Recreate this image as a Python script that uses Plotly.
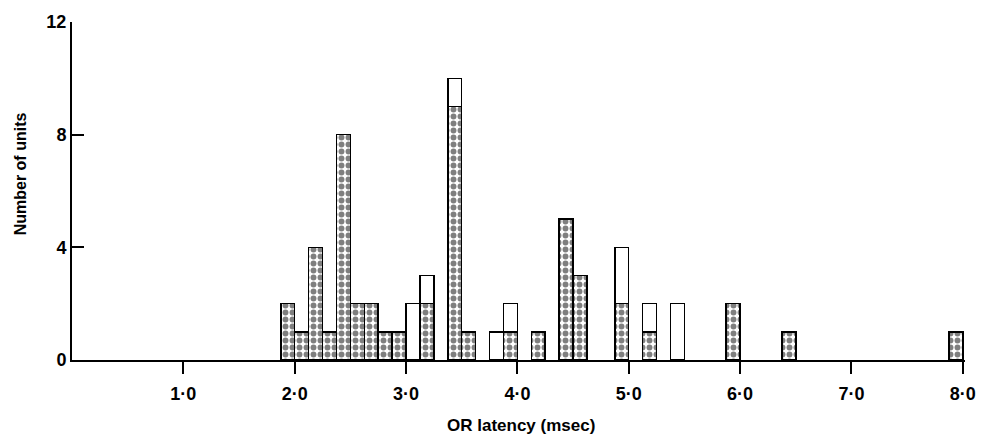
import plotly.graph_objects as go

# Bin centres (msec), bin width 0.125 msec
bin_centers = [1.9375, 2.0625, 2.1875, 2.3125, 2.4375, 2.5625, 2.6875, 2.8125, 2.9375,
               3.0625, 3.1875, 3.4375, 3.5625, 3.8125, 3.9375, 4.1875, 4.4375, 4.5625,
               4.9375, 5.1875, 5.4375, 5.9375, 6.4375, 7.9375]
dotted_counts = [2, 1, 4, 1, 8, 2, 2, 1, 1,
                 0, 2, 9, 1, 0, 1, 1, 5, 3,
                 2, 1, 0, 2, 1, 1]
open_counts = [0, 0, 0, 0, 0, 0, 0, 0, 0,
               2, 1, 1, 0, 1, 1, 0, 0, 0,
               2, 1, 2, 0, 0, 0]
bin_width = 0.125

x_tick_vals = [1, 2, 3, 4, 5, 6, 7, 8]
x_tick_text = ["1·0", "2·0", "3·0", "4·0", "5·0", "6·0", "7·0", "8·0"]
y_tick_vals = [0, 4, 8, 12]

FONT = "Liberation Sans, Arial, sans-serif"

fig = go.Figure()
fig.add_trace(go.Bar(
    x=bin_centers, y=dotted_counts, width=bin_width,
    marker=dict(color="white",
                line=dict(color="black", width=1.5),
                pattern=dict(shape=".", fgcolor="black", bgcolor="white",
                             size=7, solidity=0.55, fillmode="overlay")),
    showlegend=False, hoverinfo="skip",
))
fig.add_trace(go.Bar(
    x=bin_centers, y=open_counts, width=bin_width,
    marker=dict(color="white", line=dict(color="black", width=1.5)),
    showlegend=False, hoverinfo="skip",
))

fig.update_layout(
    template="simple_white",
    barmode="stack", bargap=0,
    width=981, height=436,
    margin=dict(l=72, r=16, t=22, b=76, autoexpand=False),
    font=dict(family=FONT, size=17, color="black", weight="bold"),
    annotations=[
        dict(text="OR latency (msec)", xref="paper", yref="paper",
             x=0.503, y=-0.195, xanchor="center", yanchor="middle",
             showarrow=False, font=dict(family=FONT, size=17, weight="bold")),
        dict(text="Number of units", xref="paper", yref="paper",
             x=-0.058, y=0.55, xanchor="center", yanchor="middle", textangle=-90,
             showarrow=False, font=dict(family=FONT, size=16, weight="bold")),
    ],
)
fig.update_xaxes(
    range=[0, 8.02], tickmode="array", tickvals=x_tick_vals, ticktext=x_tick_text,
    ticks="outside", ticklen=12, tickwidth=2, tickcolor="black",
    ticklabelstandoff=4,
    showline=True, linecolor="black", linewidth=2, mirror=False,
    showgrid=False, zeroline=False, automargin=False,
    tickfont=dict(family=FONT, size=18, weight="bold"),
)
fig.update_yaxes(
    range=[0, 12], tickmode="array", tickvals=y_tick_vals,
    ticks="inside", ticklen=12, tickwidth=2, tickcolor="black",
    showline=True, linecolor="black", linewidth=2, mirror=False,
    showgrid=False, zeroline=False, automargin=False,
    tickfont=dict(family=FONT, size=18, weight="bold"),
)

post = """
document.body.style.margin = '0';
document.body.style.overflow = 'hidden';
"""

fig.write_html("out.html", post_script=post,
               config={"displayModeBar": False, "staticPlot": True})
